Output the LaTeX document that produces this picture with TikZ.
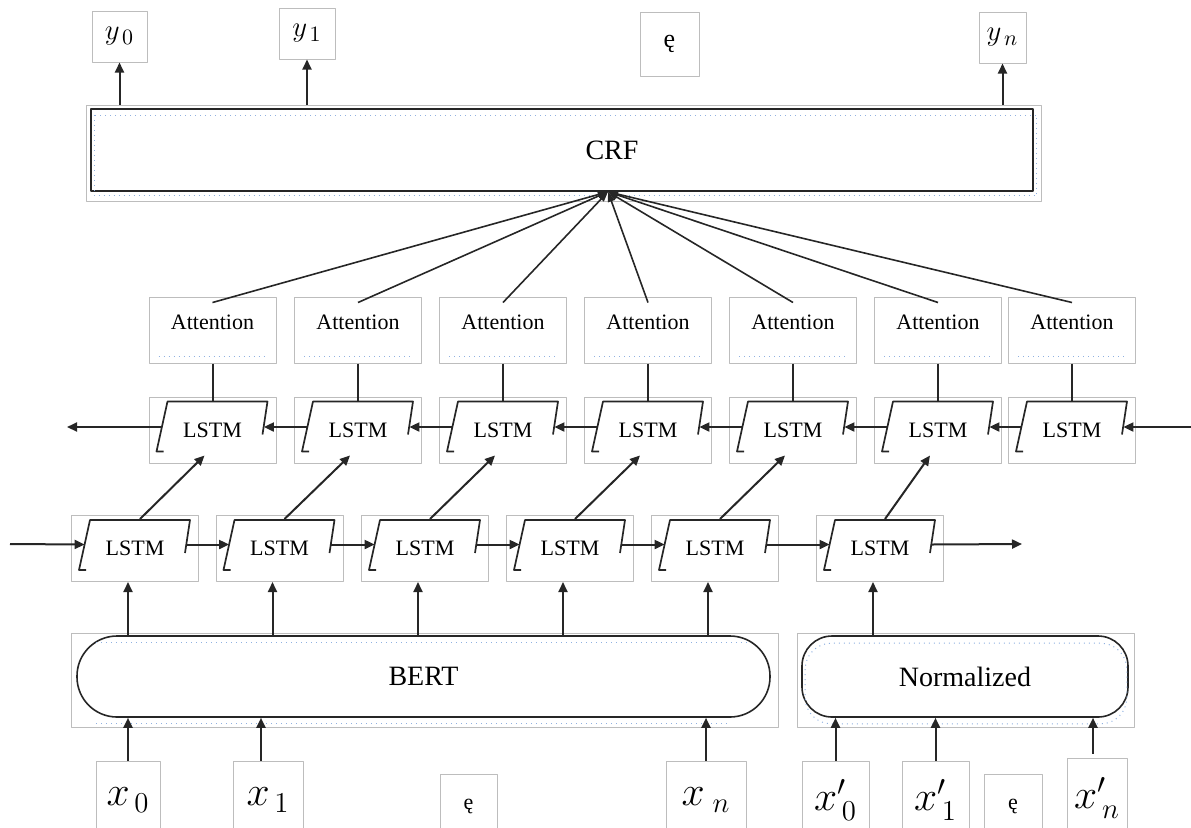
\documentclass[tikz,border=0pt]{standalone}
\usepackage{fontspec}
\setmainfont{Liberation Serif}
\usetikzlibrary{arrows.meta}
\definecolor{boxframe}{HTML}{BDBDBD}
\definecolor{wireblack}{HTML}{262626}
\definecolor{guideblue}{HTML}{8FB0E0}

\begin{document}
\begin{tikzpicture}[
  x=0.5pt,
  y=-0.5pt,
  line join=round,
  frame/.style={draw=boxframe,line width=0.5pt,inner sep=0pt},
  cell/.style={draw=wireblack,line width=0.85pt},
  guide/.style={draw=guideblue,line width=0.5pt,dotted},
  link/.style={draw=wireblack,line width=1pt},
  flow/.style={draw=wireblack,line width=1pt,-{Triangle[length=5pt,width=4.5pt]}},
  fan/.style={draw=wireblack,line width=0.8pt,-{Triangle[length=5pt,width=3.5pt]}},
  attbox/.style={frame,minimum width=63.5pt,minimum height=33pt,
    font=\fontsize{11}{12}\selectfont,text height=8pt,text depth=9pt},
  lstmbox/.style={frame,minimum width=63.5pt,minimum height=33pt,
    font=\fontsize{11}{12}\selectfont},
  pill/.style={draw=wireblack,line width=0.8pt,minimum height=40.5pt,
    font=\fontsize{14}{16}\selectfont},
  ybox/.style={frame,minimum height=25.5pt,font=\fontsize{15}{16}\selectfont},
  xbox/.style={frame,minimum height=39pt,font=\fontsize{20}{22}\selectfont}
]
  \useasboundingbox (0,0) rectangle (1191,827);
  \clip (0,0) rectangle (1191,827);

  % Output labels above the CRF layer.
  \node[ybox,minimum width=27.5pt] (y0) at (119.5,36.5) {$y_{\,0}$};
  \node[ybox,minimum width=28pt] (y1) at (307,33.5) {$y_{\,1}$};
  \node[frame,minimum width=29.5pt,minimum height=32pt,font=\fontsize{13}{14}\selectfont] (yd) at (669.5,44) {ę};
  \node[ybox,minimum width=23.5pt] (yn) at (1002.5,37.5) {$y_{\,n}$};

  % CRF layer: gray frame round a black box.
  \node[frame,minimum width=477.5pt,minimum height=48pt] (crfframe) at (563.5,153) {};
  \node[draw=wireblack,line width=0.8pt,minimum width=471pt,minimum height=41pt,
    label={[xshift=25pt,font=\fontsize{14}{16}\selectfont]center:CRF}] (crf) at (562,150) {};
  \draw[guide] ([xshift=2pt,yshift=-3.5pt]crf.north west) rectangle ([xshift=1.5pt,yshift=-2pt]crf.south east);
  \coordinate (crfin) at ([xshift=23pt]crf.south);

  \foreach \p in {y0,y1,yn} {
    \draw[flow] (\p.south |- crfframe.north) -- (\p.south);
  }

  % Attention and backward LSTM columns.
  \foreach \i/\cx in {1/212.5,2/358,3/503,4/648,5/793,6/938,7/1072} {
    \node[attbox] (att\i) at (\cx,330) {Attention};
    \node[lstmbox] (bwd\i) at (\cx,430) {LSTM};
    \draw[guide] ([xshift=5pt,yshift=3.5pt]att\i.south west) -- ([xshift=-5pt,yshift=3.5pt]att\i.south east);
    \draw[link] (att\i.south) -- ([yshift=-2.5pt]bwd\i.north);
    \draw[fan] ([yshift=-3pt]att\i.north) -- (crfin);
  }

  % Forward LSTM row.
  \foreach \i/\cx in {1/135,2/279.5,3/425,4/570,5/715,6/880} {
    \node[lstmbox] (fwd\i) at (\cx,548.5) {LSTM};
    \coordinate (fb\i) at ([xshift=-3.5pt]fwd\i.south);
    \draw[flow] ([xshift=2.5pt,yshift=-2pt]fwd\i.north) -- ([xshift=-4pt,yshift=4pt]bwd\i.south);
  }

  % Slanted cell outline inside every LSTM box.
  \foreach \b in {bwd1,bwd2,bwd3,bwd4,bwd5,bwd6,bwd7,fwd1,fwd2,fwd3,fwd4,fwd5,fwd6} {
    \draw[cell] ([xshift=7.5pt,yshift=6pt]\b.south west) -- ([xshift=4pt,yshift=6pt]\b.south west)
      -- ([xshift=9.5pt,yshift=-2.5pt]\b.north west) -- ([xshift=-4.5pt,yshift=-2.5pt]\b.north east)
      -- ([xshift=-7pt,yshift=-19pt]\b.north east);
  }

  % Recurrent connections.
  \coordinate (bin) at (1191,427);
  \coordinate (bout) at (67,427);
  \coordinate (fin) at (10,544);
  \coordinate (fout) at (1022,544);
  \draw[flow] (bin) -- ([xshift=-6.3pt,yshift=1.5pt]bwd7.east);
  \foreach \i/\j in {1/2,2/3,3/4,4/5,5/6,6/7} {
    \draw[flow] ([xshift=6.8pt,yshift=1.5pt]bwd\j.west) -- ([xshift=-6.3pt,yshift=1.5pt]bwd\i.east);
  }
  \draw[flow] ([xshift=6.8pt,yshift=1.5pt]bwd1.west) -- (bout);
  \draw[flow] (fin) -- ([xshift=6.8pt,yshift=2pt]fwd1.west);
  \foreach \i/\j in {1/2,2/3,3/4,4/5,5/6} {
    \draw[flow] ([xshift=-6.3pt,yshift=2pt]fwd\i.east) -- ([xshift=6.8pt,yshift=2pt]fwd\j.west);
  }
  \draw[flow] ([xshift=-6.3pt,yshift=2pt]fwd6.east) -- (fout);

  % Encoders.
  \node[frame,minimum width=353.5pt,minimum height=47pt] (bertframe) at (424.5,680) {};
  \node[pill,rounded corners=20pt,minimum width=346.5pt] (bert) at (423.5,676.5) {BERT};
  \draw[guide] ([xshift=10pt,yshift=-3.5pt]bert.north west) -- ([xshift=-10pt,yshift=-3.5pt]bert.north east);
  \draw[guide] ([xshift=10pt,yshift=-3pt]bert.south west) -- ([xshift=-20pt,yshift=-3pt]bert.south east);
  \node[frame,minimum width=168.5pt,minimum height=47pt] (normframe) at (965.5,680) {};
  \node[pill,rounded corners=15pt,minimum width=163pt] (norm) at (965,676.5) {Normalized};
  \draw[guide,rounded corners=13pt] ([xshift=2pt,yshift=-4pt]norm.north west) rectangle ([xshift=-1pt,yshift=-3pt]norm.south east);

  \foreach \i in {1,2,3,4,5} {
    \draw[flow] (fb\i |- bert.north) -- (fb\i);
  }
  \draw[flow] (fb6 |- norm.north) -- (fb6);

  % Input tokens.
  \node[xbox,minimum width=32pt] (x0) at (128,800) {$x_{\,0}$};
  \node[xbox,minimum width=35pt] (x1) at (268,800) {$x_{\,1}$};
  \node[frame,minimum width=28.5pt,minimum height=32pt,font=\fontsize{11}{12}\selectfont] (xd) at (468.5,806) {ę};
  \node[xbox,minimum width=40pt] (xn) at (706,800) {$x_{\;n}$};
  \node[xbox,minimum width=33.5pt] (xp0) at (835.5,800) {$x'_{\,0}$};
  \node[xbox,minimum width=33.5pt] (xp1) at (935.5,800) {$x'_{\,1}$};
  \node[frame,minimum width=29pt,minimum height=32pt,font=\fontsize{11}{12}\selectfont] (xpd) at (1013,806) {ę};
  \node[xbox,minimum width=30pt,minimum height=40pt] (xpn) at (1097,798) {$x'_{\,n}$};

  \draw[flow] (x0.north) -- (x0.north |- bert.south);
  \draw[flow] ([xshift=-3.5pt]x1.north) -- ([xshift=-3.5pt]x1.north |- bert.south);
  \draw[flow] (xn.north) -- (xn.north |- bert.south);
  \draw[flow] (xp0.north) -- (xp0.north |- norm.south);
  \draw[flow] (xp1.north) -- (xp1.north |- norm.south);
  \draw[flow] ([xshift=-2pt,yshift=2pt]xpn.north) -- ([xshift=-2pt]xpn.north |- norm.south);
\end{tikzpicture}
\end{document}
